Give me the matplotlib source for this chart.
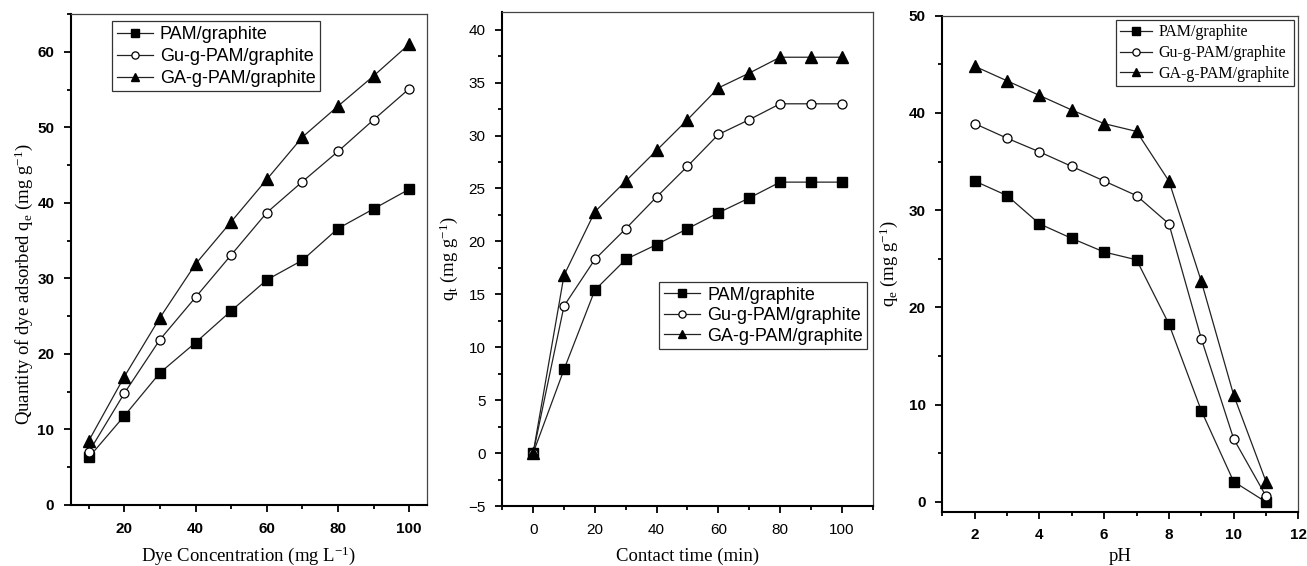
import matplotlib
matplotlib.use("Agg")
import matplotlib.pyplot as plt
from matplotlib.ticker import MultipleLocator

plt.rcParams["mathtext.fontset"] = "custom"
plt.rcParams["mathtext.rm"] = "Liberation Serif"
plt.rcParams["mathtext.it"] = "Liberation Serif:italic"
plt.rcParams["mathtext.bf"] = "Liberation Serif:bold"

labels = ["PAM/graphite", "Gu-g-PAM/graphite", "GA-g-PAM/graphite"]

# Panel 1: dye concentration
conc = [10, 20, 30, 40, 50, 60, 70, 80, 90, 100]
conc_pam = [6.3, 11.8, 17.5, 21.5, 25.7, 29.8, 32.4, 36.6, 39.2, 41.8]
conc_gu = [7.0, 14.8, 21.9, 27.5, 33.1, 38.7, 42.8, 46.8, 51.0, 55.1]
conc_ga = [8.5, 17.0, 24.8, 31.9, 37.5, 43.1, 48.7, 52.8, 56.8, 61.0]

# Panel 2: contact time
time = [0, 10, 20, 30, 40, 50, 60, 70, 80, 90, 100]
time_pam = [0, 7.9, 15.4, 18.3, 19.7, 21.2, 22.7, 24.1, 25.6, 25.6, 25.6]
time_gu = [0, 13.9, 18.3, 21.2, 24.2, 27.1, 30.1, 31.5, 33.0, 33.0, 33.0]
time_ga = [0, 16.8, 22.8, 25.7, 28.6, 31.5, 34.5, 35.9, 37.4, 37.4, 37.4]

# Panel 3: pH
ph = [2, 3, 4, 5, 6, 7, 8, 9, 10, 11]
ph_pam = [33.0, 31.5, 28.6, 27.1, 25.7, 24.9, 18.3, 9.4, 2.1, 0.0]
ph_gu = [38.9, 37.4, 36.0, 34.5, 33.0, 31.5, 28.6, 16.8, 6.5, 0.6]
ph_ga = [44.8, 43.3, 41.8, 40.3, 38.9, 38.1, 33.0, 22.7, 11.0, 2.1]

SANS = "Liberation Sans"
SERIF = "Liberation Serif"

fig = plt.figure(figsize=(13.07, 5.66), dpi=100)

styles = [
    dict(marker="s", mfc="black", mec="black", ms=6.5),
    dict(marker="o", mfc="white", mec="black", ms=6.5, mew=0.9),
    dict(marker="^", mfc="black", mec="black", ms=8),
]

def draw(ax, x, ys, xlim, ylim, xmaj, xmin, ymaj, ymin, xlabel, ylabel,
         legloc, legfont, legsize, legbbox=None, tickweight="normal",
         xlabelpad=4, labelspacing=0.2):
    for y, st, lab in zip(ys, styles, labels):
        ax.plot(x, y, color="#222222", lw=0.9, label=lab, **st)
    ax.set_xlim(*xlim)
    ax.set_ylim(*ylim)
    ax.xaxis.set_major_locator(MultipleLocator(xmaj))
    ax.xaxis.set_minor_locator(MultipleLocator(xmin))
    ax.yaxis.set_major_locator(MultipleLocator(ymaj))
    ax.yaxis.set_minor_locator(MultipleLocator(ymin))
    ax.tick_params(which="both", direction="out", top=False, right=False,
                   width=1.3)
    ax.tick_params(which="major", length=5, labelsize=11, pad=7)
    ax.tick_params(which="minor", length=3)
    for lab in ax.get_xticklabels() + ax.get_yticklabels():
        lab.set_fontfamily(SANS)
        lab.set_fontweight(tickweight)
    for s in ["left", "bottom"]:
        ax.spines[s].set_linewidth(1.5)
    for s in ["top", "right"]:
        ax.spines[s].set_linewidth(0.9)
        ax.spines[s].set_color("#444444")
    ax.set_xlabel(xlabel, fontfamily=SERIF, fontsize=13.5, labelpad=xlabelpad)
    ax.set_ylabel(ylabel, fontfamily=SERIF, fontsize=13.5, labelpad=6)
    kw = dict(loc=legloc, frameon=True, fancybox=False, edgecolor="black",
              prop={"family": legfont, "size": legsize}, handlelength=2.0,
              borderpad=0.25, labelspacing=labelspacing, handletextpad=0.4,
              borderaxespad=0.3, markerscale=0.8)
    if legbbox is not None:
        kw["bbox_to_anchor"] = legbbox
    leg = ax.legend(**kw)
    leg.get_frame().set_linewidth(0.9)

ax1 = fig.add_axes([0.0543, 0.1078, 0.2724, 0.8675])
draw(ax1, conc, [conc_pam, conc_gu, conc_ga], (5, 105), (0, 65), 20, 10, 10, 5,
     r"Dye Concentration (mg L$^{-1}$)",
     r"Quantity of dye adsorbed q$_\mathrm{e}$ (mg g$^{-1}$)",
     "upper left", SANS, 13, (0.1, 0.996), tickweight="bold", xlabelpad=6,
     labelspacing=0.28)
ax1.set_xticks([20, 40, 60, 80, 100])
ax1.yaxis.set_label_coords(-0.1, 0.45)

ax2 = fig.add_axes([0.3843, 0.106, 0.2834, 0.8733])
draw(ax2, time, [time_pam, time_gu, time_ga], (-10, 110), (-5, 41.7), 20, 10, 5, 2.5,
     "Contact time (min)", r"q$_\mathrm{t}$ (mg g$^{-1}$)",
     "center right", SANS, 13, (1.0, 0.385), xlabelpad=8)

ax3 = fig.add_axes([0.721, 0.0959, 0.2724, 0.8764])
draw(ax3, ph, [ph_pam, ph_gu, ph_ga], (1, 12), (-1, 50), 2, 1, 10, 5,
     "pH", r"q$_\mathrm{e}$ (mg g$^{-1}$)",
     "upper right", SERIF, 11.5, tickweight="bold", xlabelpad=4,
     labelspacing=0.3)

fig.savefig("out.png", dpi=100)
